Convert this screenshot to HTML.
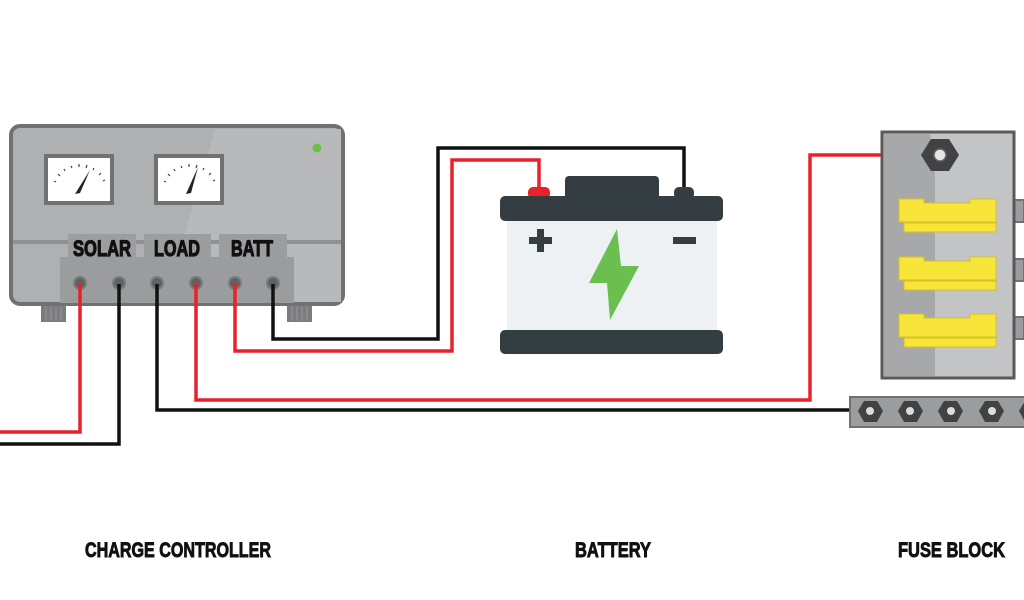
<!DOCTYPE html>
<html><head><meta charset="utf-8"><style>html,body{margin:0;padding:0;background:#fff}svg{display:block}</style></head>
<body>
<svg width="1024" height="600" viewBox="0 0 1024 600" xmlns="http://www.w3.org/2000/svg">
<rect width="1024" height="600" fill="#fff"/>
<!-- controller -->
<rect x="41" y="304" width="25" height="18" fill="#7a7c7e"/>
<rect x="287" y="304" width="25" height="18" fill="#7a7c7e"/>
<g stroke="#999" stroke-width="1"><line x1="46" y1="306" x2="46" y2="321"/><line x1="51" y1="306" x2="51" y2="321"/><line x1="56" y1="306" x2="56" y2="321"/><line x1="61" y1="306" x2="61" y2="321"/><line x1="292" y1="306" x2="292" y2="321"/><line x1="297" y1="306" x2="297" y2="321"/><line x1="302" y1="306" x2="302" y2="321"/><line x1="307" y1="306" x2="307" y2="321"/></g>
<rect x="11" y="126" width="332" height="178" rx="9" fill="#aeb0b2" stroke="#6f7173" stroke-width="4"/>
<polygon points="215,129 341,129 341,302 165,302" fill="#b7b9bb"/>
<line x1="13" y1="242" x2="341" y2="242" stroke="#8f9193" stroke-width="4"/>
<circle cx="317" cy="148" r="4.5" fill="#6cc04a"/>
<g>
<rect x="46" y="156" width="66" height="47" fill="#fff" stroke="#6f7173" stroke-width="4"/>
<rect x="156" y="156" width="66" height="47" fill="#fff" stroke="#6f7173" stroke-width="4"/>
<polygon points="75,194 80,193 90,170" fill="#222"/>
<polygon points="186,194 191,193 198,167" fill="#222"/>
<g stroke="#444" stroke-width="1.2">
<line x1="54" y1="181" x2="56" y2="182"/><line x1="58" y1="174" x2="60" y2="176"/><line x1="64" y1="169" x2="65" y2="171"/><line x1="71" y1="166" x2="72" y2="168"/><line x1="79" y1="164" x2="79" y2="167"/><line x1="87" y1="165" x2="86" y2="168"/><line x1="94" y1="168" x2="93" y2="170"/><line x1="101" y1="173" x2="99" y2="175"/><line x1="105" y1="180" x2="103" y2="181"/>
<line x1="164" y1="181" x2="166" y2="182"/><line x1="168" y1="174" x2="170" y2="176"/><line x1="174" y1="169" x2="175" y2="171"/><line x1="181" y1="166" x2="182" y2="168"/><line x1="189" y1="164" x2="189" y2="167"/><line x1="197" y1="165" x2="196" y2="168"/><line x1="204" y1="168" x2="203" y2="170"/><line x1="211" y1="173" x2="209" y2="175"/><line x1="215" y1="180" x2="213" y2="181"/>
</g></g>
<rect x="68" y="234" width="68" height="24" fill="#9b9d9f"/>
<rect x="144" y="234" width="67" height="24" fill="#9b9d9f"/>
<rect x="219" y="234" width="68" height="24" fill="#9b9d9f"/>
<g font-family="'Liberation Sans Narrow','Liberation Sans',sans-serif" font-weight="bold" font-size="22" fill="#111" stroke="#111" stroke-width="1.2">
<text x="73" y="256" textLength="58" lengthAdjust="spacingAndGlyphs">SOLAR</text>
<text x="154" y="256" textLength="46" lengthAdjust="spacingAndGlyphs">LOAD</text>
<text x="231" y="256" textLength="42" lengthAdjust="spacingAndGlyphs">BATT</text>
</g>
<rect x="60" y="257" width="234" height="46" fill="#9a9c9e"/>
<g fill="#5f6163" stroke="#7a7c7e" stroke-width="2">
<circle cx="80" cy="283" r="6"/><circle cx="119" cy="283" r="6"/><circle cx="157" cy="283" r="6"/><circle cx="196" cy="283" r="6"/><circle cx="235" cy="283" r="6"/><circle cx="273" cy="283" r="6"/>
</g>
<!-- wires -->
<g fill="none" stroke-width="3.5" stroke-linejoin="miter">
<polyline points="80,284 80,432 0,432" stroke="#e8212b"/>
<polyline points="119,284 119,444 0,444" stroke="#111"/>
<polyline points="157,284 157,410 852,410" stroke="#111"/>
<polyline points="196,284 196,400 810,400 810,155 935,155" stroke="#e8212b"/>
<polyline points="235,284 235,351 452,351 452,160 539,160 539,190" stroke="#e8212b"/>
<polyline points="273,284 273,339 438,339 438,148 684,148 684,190" stroke="#111"/>
</g>
<!-- battery -->
<rect x="565" y="176" width="94" height="24" rx="4" fill="#333d42"/>
<rect x="528" y="187" width="22" height="12" rx="5" fill="#e8212b"/>
<rect x="674" y="187" width="20" height="12" rx="5" fill="#333d42"/>
<rect x="507" y="218" width="210" height="114" fill="#eef1f4"/>
<rect x="500" y="196" width="223" height="25" rx="5" fill="#333d42"/>
<rect x="500" y="330" width="223" height="24" rx="5" fill="#333d42"/>
<rect x="529" y="237" width="23" height="7" fill="#333d42"/><rect x="537" y="229" width="7" height="23" fill="#333d42"/>
<rect x="673" y="237" width="23" height="7" fill="#333d42"/>
<polygon points="617,229 589,283 607,283 610,320 639,266 621,266" fill="#6bbf4e"/>
<!-- fuse block -->
<rect x="1012" y="200" width="12" height="22" fill="#9a9c9e" stroke="#6f7173" stroke-width="2"/>
<rect x="1012" y="259" width="12" height="22" fill="#9a9c9e" stroke="#6f7173" stroke-width="2"/>
<rect x="1012" y="317" width="12" height="22" fill="#9a9c9e" stroke="#6f7173" stroke-width="2"/>
<rect x="882" y="132" width="132" height="246" fill="#c3c4c6" stroke="#59595b" stroke-width="3"/>
<polygon points="884,134 930,134 935,175 935,376 884,376" fill="#a7a8aa"/>
<polygon points="931,139 949,139 959,155 949,171 931,171 921,155" fill="#404244"/>
<circle cx="940" cy="155" r="6" fill="#e6e6e6" stroke="#666" stroke-width="1.5"/>
<g fill="#f7e53a" stroke="#d6c12a" stroke-width="1">
<path d="M904,223 h92 v9 h-92z"/><path d="M899,199 h25 v4 h46 v-4 h26 v23 h-97z"/>
<path d="M904,281 h92 v9 h-92z"/><path d="M899,257 h25 v4 h46 v-4 h26 v23 h-97z"/>
<path d="M904,338 h92 v9 h-92z"/><path d="M899,314 h25 v4 h46 v-4 h26 v23 h-97z"/>
</g>
<rect x="850" y="397" width="180" height="30" fill="#9a9c9e" stroke="#6f7173" stroke-width="2"/>
<g fill="#404244">
<polygon points="864,401 877,401 883,411 877,422 864,422 858,411"/>
<polygon points="904,401 917,401 923,411 917,422 904,422 898,411"/>
<polygon points="944,401 957,401 963,411 957,422 944,422 938,411"/>
<polygon points="985,401 998,401 1004,411 998,422 985,422 979,411"/>
<polygon points="1025,401 1038,401 1044,411 1038,422 1025,422 1019,411"/>
</g>
<g fill="#ddd"><circle cx="870" cy="411" r="4"/><circle cx="910" cy="411" r="4"/><circle cx="951" cy="411" r="4"/><circle cx="992" cy="411" r="4"/></g>
<!-- labels -->
<g font-family="'Liberation Sans Narrow','Liberation Sans',sans-serif" font-weight="bold" font-size="21" fill="#111" stroke="#111" stroke-width="0.9">
<text x="85" y="557" textLength="186" lengthAdjust="spacingAndGlyphs">CHARGE CONTROLLER</text>
<text x="575" y="557" textLength="76" lengthAdjust="spacingAndGlyphs">BATTERY</text>
<text x="898" y="557" textLength="107" lengthAdjust="spacingAndGlyphs">FUSE BLOCK</text>
</g>
</svg>
</body></html>
